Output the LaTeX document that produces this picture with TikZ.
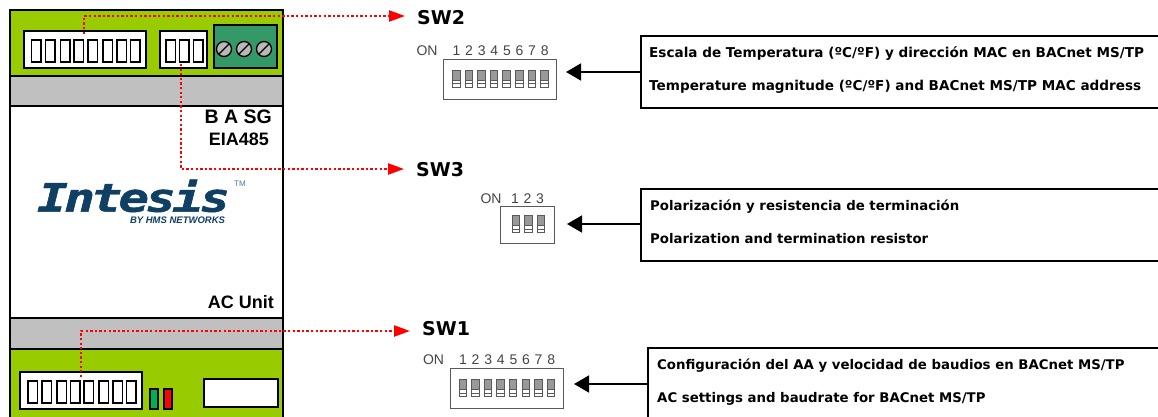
\documentclass[tikz,border=0pt]{standalone}
\usepackage{fontspec}
\usepackage{graphicx}
\setmainfont{Liberation Sans}
\newfontfamily\versal{DejaVu Sans}
\newfontfamily\logofont[BoldItalicFeatures={FakeBold=1.2,LetterSpace=-7}]{DejaVu Sans Mono}
\usetikzlibrary{arrows.meta}
\definecolor{verde}{HTML}{99CC00}
\definecolor{gris}{HTML}{C0C0C0}
\definecolor{borne}{HTML}{339966}
\definecolor{marino}{HTML}{0F3F62}
\definecolor{rotulo}{HTML}{444444}
\definecolor{piloto}{HTML}{00B050}
\tikzset{
    franja/.style={draw=black, line width=2pt, anchor=north west, inner sep=0pt, minimum width=273},
    caja/.style={draw=black, fill=white, line width=2pt, anchor=north west, inner sep=0pt},
    ranura/.style={draw=black, fill=white, line width=1.6pt, anchor=north west, inner sep=0pt, minimum width=9.5, minimum height=22},
    tornillo/.style={draw=black, fill=gray!55, circle, line width=1.3pt, minimum size=15, inner sep=0pt},
    marca/.style={font=\bfseries\fontsize{18}{20}\selectfont, inner sep=0pt, anchor=east},
    titulo/.style={font=\versal\bfseries\fontsize{19}{20}\selectfont, inner sep=0pt, anchor=west},
    cifra/.style={font=\fontsize{14}{16}\selectfont, text=rotulo, inner sep=0pt},
    dip/.style={draw=black!65, fill=white, line width=1.2pt, anchor=north west, inner sep=0pt, minimum height=40},
    desc/.style={draw=black, line width=1.6pt, anchor=north west, inner sep=0pt, minimum height=72, minimum width=540},
    linea/.style={anchor=base west, inner sep=0pt, font=\versal\bfseries\fontsize{13.3}{15}\selectfont},
    lineaA/.style={linea, font=\versal\bfseries\fontsize{13.58}{15}\selectfont},
    rojo/.style={draw=red, line width=2.3pt, dash pattern=on 2.3pt off 2.3pt, -{Triangle[length=16pt,width=11pt]}},
    flecha/.style={draw=black, line width=1.6pt, -{Triangle[length=15pt,width=17pt]}}
}
\begin{document}
\begin{tikzpicture}[x=1pt, y=-1pt]
    \useasboundingbox (0,0) rectangle (1158,417);
    \clip (0,0) rectangle (1158,417);
    % cuerpo del equipo
    \node[franja, fill=verde, minimum height=66] (verdeA) at (9,9) {};
    \node[franja, fill=gris, minimum height=30] (grisA) at (9,75) {};
    \node[franja, fill=white, minimum height=212] (centro) at (9,105) {};
    \node[franja, fill=gris, minimum height=31] (grisB) at (9,317) {};
    \node[franja, fill=verde, minimum height=80] (verdeB) at (9,348) {};
    % conectores de arriba
    \node[caja, minimum width=122, minimum height=37] (conA) at (23,30) {};
    \foreach \x [count=\i] in {30.5,44.5,59.5,73,87,102,116,129.5}
        \node[ranura] (conA\i) at (\x,39.5) {};
    \node[caja, minimum width=47, minimum height=37] (conB) at (159,30) {};
    \foreach \x [count=\i] in {165,178.5,192.5}
        \node[ranura] (conB\i) at (\x,39.5) {};
    \node[caja, fill=borne, minimum width=63, minimum height=43] (bornes) at (213,24) {};
    \foreach \x [count=\i] in {224,244,264} {
        \node[tornillo] (tor\i) at (\x,49) {};
        \draw[line width=1.3pt] (tor\i.225) -- (tor\i.45);
    }
    % conectores de abajo
    \node[caja, minimum width=122, minimum height=37] (conC) at (19,371) {};
    \foreach \x [count=\i] in {27,41,56,69.5,83,98,112,125.5}
        \node[ranura] (conC\i) at (\x,380) {};
    \node[caja, fill=piloto, line width=1.6pt, minimum width=8, minimum height=20] (ledV) at (149,388) {};
    \node[caja, fill=red, line width=1.6pt, minimum width=8, minimum height=20] (ledR) at (163,388) {};
    \node[caja, minimum width=74, minimum height=28] (vacia) at (203,378) {};
    % textos del equipo
    \node[marca, font=\bfseries\fontsize{19.5}{20}\selectfont] (bas) at (272,117) {B A SG};
    \node[marca] (eia) at (269,139) {EIA485};
    \node[marca] (acu) at (274,302) {AC Unit};
    \node[inner sep=0pt, anchor=north west, text=marino] (logo) at (37,179.5)
        {\resizebox{193pt}{32pt}{\logofont\bfseries\itshape Intesis}};
    \node[inner sep=0pt, text=marino!70, font=\fontsize{8}{9}\selectfont] (tm) at (240,184) {TM};
    \node[inner sep=0pt, text=marino, font=\bfseries\itshape\fontsize{9.5}{10}\selectfont] (hms) at (177.5,220.5) {BY HMS NETWORKS};
    % lineas rojas
    \node[titulo] (sw2) at (417,18) {SW2};
    \node[titulo] (sw3) at (416,170) {SW3};
    \node[titulo] (sw1) at (422,329) {SW1};
    \coordinate (iniA) at (84,34);
    \coordinate (iniB) at (181,64);
    \coordinate (iniC) at (81,377);
    \draw[rojo] (iniA) |- ([xshift=-12]sw2.west |- 0,16);
    \draw[rojo] (iniB) |- ([xshift=-12]sw3.west |- 0,169);
    \draw[rojo] (iniC) |- ([xshift=-12]sw1.west |- 0,331);
    % SW2
    \node[dip, minimum width=113] (dipA) at (443,59) {};
    \node[cifra] (onA) at (427,51) {ON};
    \foreach \x [count=\i] in {452,464.6,477.2,489.8,502.4,515,527.6,540.2} {
        \node[cifra] (numA\i) at (\x+4.5,51) {\i};
        \fill[black!65] (\x,70) rectangle (\x+8.5,88);
        \fill[black!40] (\x+1,71) rectangle (\x+7.5,80);
        \fill[white] (\x+1,81) rectangle (\x+7.5,83.5);
        \fill[white] (\x+1,84.5) rectangle (\x+7.5,87);
    }
    % SW3
    \node[dip, minimum width=54, minimum height=37] (dipB) at (500,206) {};
    \node[cifra] (onB) at (491,199) {ON};
    \foreach \x [count=\i] in {511.5,524,536.5} {
        \node[cifra] (numB\i) at (\x+3.5,199) {\i};
        \fill[black!65] (\x,215) rectangle (\x+8.5,233);
        \fill[black!40] (\x+1,216) rectangle (\x+7.5,225);
        \fill[white] (\x+1,226) rectangle (\x+7.5,228.5);
        \fill[white] (\x+1,229.5) rectangle (\x+7.5,232);
    }
    % SW1
    \node[dip, minimum width=113] (dipC) at (450,368) {};
    \node[cifra] (onC) at (433.5,360) {ON};
    \foreach \x [count=\i] in {458.5,471.1,483.7,496.3,508.9,521.5,534.1,546.7} {
        \node[cifra] (numC\i) at (\x+4.5,360) {\i};
        \fill[black!65] (\x,379) rectangle (\x+8.5,397);
        \fill[black!40] (\x+1,380) rectangle (\x+7.5,389);
        \fill[white] (\x+1,390) rectangle (\x+7.5,392.5);
        \fill[white] (\x+1,393.5) rectangle (\x+7.5,396);
    }
    % cajas de descripcion
    \node[desc] (descA) at (640,35) {};
    \node[lineaA] (descA1) at (649,58) {Escala de Temperatura (ºC/ºF) y dirección MAC en BACnet MS/TP};
    \node[lineaA] (descA2) at (649,91) {Temperature magnitude (ºC/ºF) and BACnet MS/TP MAC address};
    \node[desc] (descB) at (640,188) {};
    \node[linea] (descB1) at (650,210) {Polarización y resistencia de terminación};
    \node[linea] (descB2) at (650,243) {Polarization and termination resistor};
    \node[desc, minimum height=90] (descC) at (647,347) {};
    \node[linea] (descC1) at (657,369) {Configuración del AA y velocidad de baudios en BACnet MS/TP};
    \node[linea] (descC2) at (657,402) {AC settings and baudrate for BACnet MS/TP};
    \coordinate (puntaA) at (566,72);
    \coordinate (puntaB) at (567,224);
    \coordinate (puntaC) at (574,384);
    \draw[flecha] (descA.west |- puntaA) -- (puntaA);
    \draw[flecha] (descB.west |- puntaB) -- (puntaB);
    \draw[flecha] (descC.west |- puntaC) -- (puntaC);
\end{tikzpicture}
\end{document}
